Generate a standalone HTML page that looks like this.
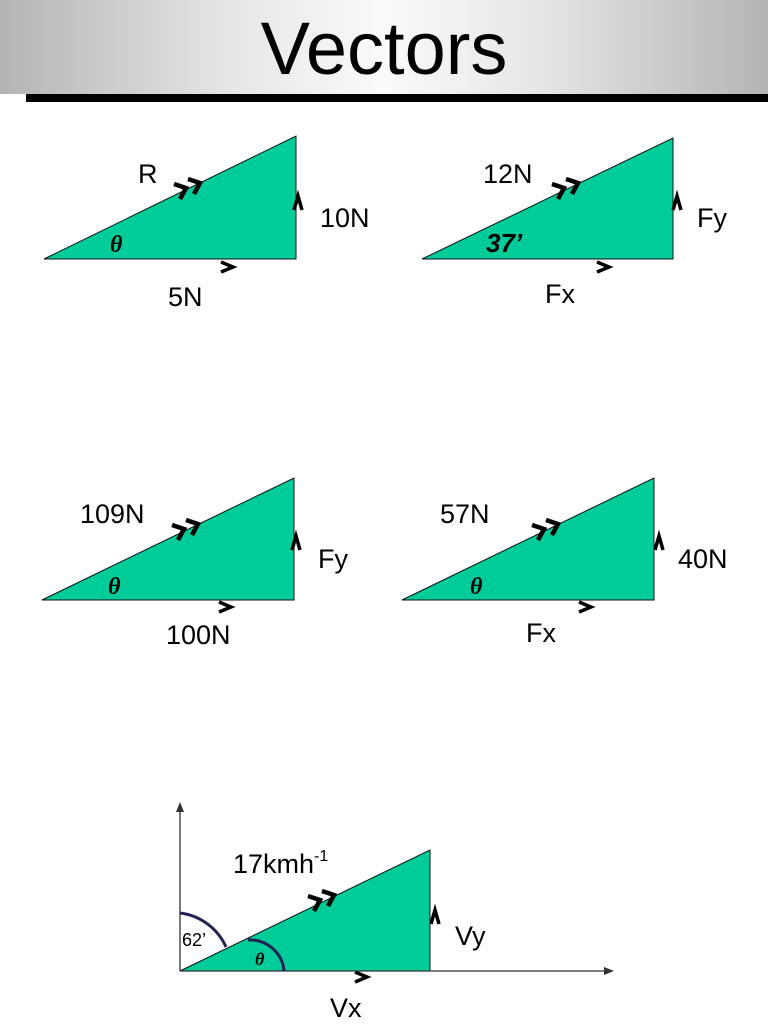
<!DOCTYPE html>
<html><head><meta charset="utf-8"><style>
html,body{margin:0;padding:0;background:#fff;}
body{width:768px;height:1024px;position:relative;overflow:hidden;font-family:"Liberation Sans",sans-serif;}
.hdr{position:absolute;left:0;top:0;width:768px;height:94px;background:linear-gradient(90deg,#b4b4b4 0%,#e6e6e6 30%,#fafafa 50%,#e6e6e6 70%,#b4b4b4 100%);}
.bar{position:absolute;left:26px;top:94px;width:742px;height:8px;background:#000;}
.title{position:absolute;left:0;width:768px;top:4px;text-align:center;font-size:74px;line-height:90px;color:#000;}
</style></head><body>
<div class="hdr"></div><div class="bar"></div>
<div class="title">Vectors</div>
<svg width="768" height="1024" style="position:absolute;left:0;top:0" font-family="Liberation Sans, sans-serif">
<defs>
<g id="dbl" fill="none" stroke="#000" stroke-width="4.5">
<polyline points="-12,-9 0,-5 -6,6"/>
<polyline points="2,-14 14,-10 8,1"/>
</g>
<polyline id="rt" points="-6,-8 6,-3 -6,2" fill="none" stroke="#000" stroke-width="3.5"/>
<polyline id="up" points="-4,7 0,-7 4,7" fill="none" stroke="#000" stroke-width="3.5"/>
</defs>
<g fill="#00cc99" stroke="#111" stroke-width="1">
<polygon points="44,259 296,259 296,136"/>
<polygon points="422,259 673,259 673,138"/>
<polygon points="42,600 294,600 294,478"/>
<polygon points="402,600 654,600 654,478"/>
<polygon points="180,971 430,971 430,850"/>
</g>
<use href="#dbl" x="186" y="193"/><use href="#dbl" x="564" y="193"/>
<use href="#dbl" x="184" y="534"/><use href="#dbl" x="544" y="534"/>
<use href="#dbl" x="320" y="905"/>
<use href="#rt" x="227" y="270"/><use href="#rt" x="603" y="270"/>
<use href="#rt" x="225" y="610"/><use href="#rt" x="585" y="610"/>
<use href="#rt" x="361" y="980"/>
<use href="#up" x="298" y="203"/><use href="#up" x="677" y="203"/>
<use href="#up" x="296" y="543"/><use href="#up" x="659" y="543"/>
<use href="#up" x="435" y="917"/>
<g stroke="#333" stroke-width="1.3" fill="none">
<line x1="180" y1="971" x2="180" y2="808"/>
<line x1="180" y1="971" x2="608" y2="971"/>
<path d="M180,913 A58,58 0 0 1 226,947" stroke="#225" stroke-width="3"/>
<path d="M248,940 A34,34 0 0 1 284,971" stroke="#225" stroke-width="3"/>
</g>
<polygon points="180,802 176,812 184,812" fill="#333"/>
<polygon points="614,971 604,967 604,975" fill="#333"/>
<g font-size="27" fill="#000">
<text x="138" y="183">R</text><text x="320" y="227">10N</text><text x="168" y="306">5N</text>
<text x="483" y="183">12N</text><text x="697" y="227">Fy</text><text x="545" y="303">Fx</text>
<text x="80" y="523">109N</text><text x="318" y="568">Fy</text><text x="166" y="644">100N</text>
<text x="440" y="523">57N</text><text x="678" y="568">40N</text><text x="526" y="642">Fx</text>
<text x="233" y="873">17kmh<tspan font-size="16" dy="-12">-1</tspan></text>
<text x="455" y="945">Vy</text><text x="330" y="1017">Vx</text>
</g>
<text x="182" y="946" font-size="18">62’</text>
<g font-family="Liberation Serif, serif" font-style="italic" font-weight="bold" fill="#000">
<text x="110" y="252" font-size="24">θ</text>
<text x="108" y="594" font-size="24">θ</text>
<text x="470" y="594" font-size="24">θ</text>
<text x="255" y="965" font-size="18">θ</text>
</g>
<text x="486" y="252" font-size="26" font-style="italic" font-weight="bold">37’</text>
</svg>
</body></html>
